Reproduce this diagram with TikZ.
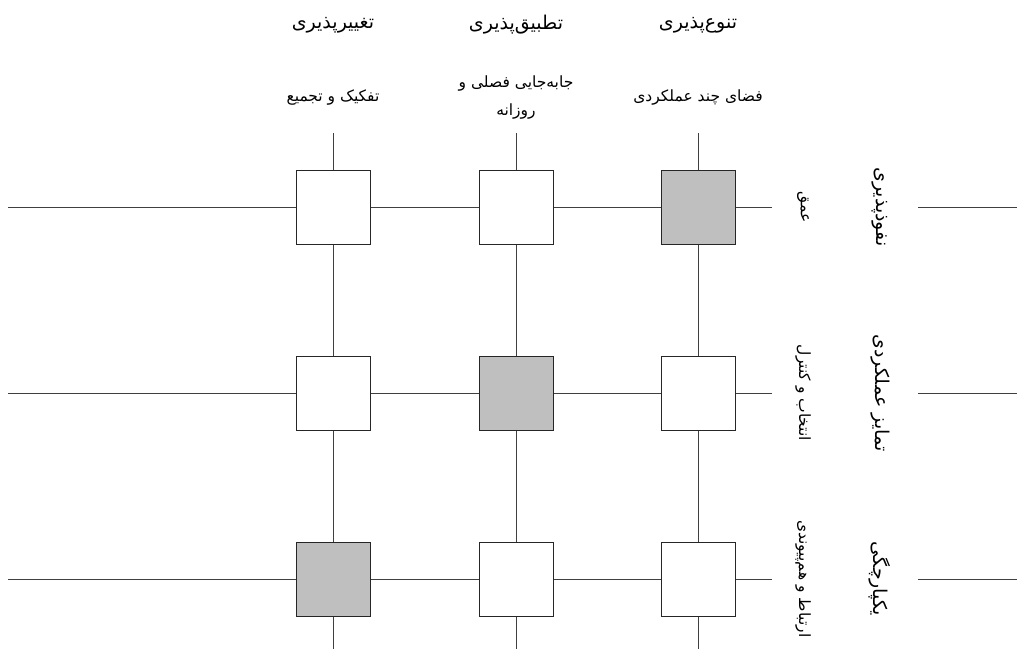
\documentclass[tikz,border=0pt]{standalone}
\usepackage{fontspec}
\TeXXeTstate=1
\newfontfamily\arabicfont[Script=Arabic]{DejaVu Sans}
\begin{document}
\begin{tikzpicture}[x=1pt,y=-1pt,
  cell/.style={draw=black!85,line width=1pt,minimum size=74pt,inner sep=0pt,fill=white},
  shaded/.style={cell,fill=black!25},
  grid/.style={draw=black!75,line width=1pt},
  head/.style={font=\arabicfont\fontsize{19}{22}\selectfont,inner sep=0pt},
  sub/.style={font=\arabicfont\fontsize{15.5}{28}\selectfont,inner sep=0pt,align=center},
  rlab/.style={head,rotate=-90},
  rsub/.style={sub,rotate=-90}]
\useasboundingbox (0,0) rectangle (1017,649);
% column anchors
\coordinate (t1) at (333,133); \coordinate (b1) at (333,649);
\coordinate (t2) at (516,133); \coordinate (b2) at (516,649);
\coordinate (t3) at (698,133); \coordinate (b3) at (698,649);
\coordinate (l1) at (8,207); \coordinate (r1) at (772,207);
\coordinate (l2) at (8,393); \coordinate (r2) at (772,393);
\coordinate (l3) at (8,579); \coordinate (r3) at (772,579);
\coordinate (e1a) at (918,207); \coordinate (e1b) at (1017,207);
\coordinate (e2a) at (918,393); \coordinate (e2b) at (1017,393);
\coordinate (e3a) at (918,579); \coordinate (e3b) at (1017,579);
\draw[grid] (t1) -- (b1);
\draw[grid] (t2) -- (b2);
\draw[grid] (t3) -- (b3);
\draw[grid] (l1) -- (r1);
\draw[grid] (l2) -- (r2);
\draw[grid] (l3) -- (r3);
\draw[grid] (e1a) -- (e1b);
\draw[grid] (e2a) -- (e2b);
\draw[grid] (e3a) -- (e3b);
% cells
\node[cell] (c11) at (333,207) {};
\node[cell] (c12) at (516,207) {};
\node[shaded] (c13) at (698,207) {};
\node[cell] (c21) at (333,393) {};
\node[shaded] (c22) at (516,393) {};
\node[cell] (c23) at (698,393) {};
\node[shaded] (c31) at (333,579) {};
\node[cell] (c32) at (516,579) {};
\node[cell] (c33) at (698,579) {};
% column headings
\node[head] (h1) at (333,25) {\beginR تغییرپذیری\endR};
\node[head] (h2) at (516,25) {\beginR تطبیق‌پذیری\endR};
\node[head] (h3) at (698,25) {\beginR تنوع‌پذیری\endR};
\node[sub] (s1) at (333,97) {\beginR تفکیک و تجمیع\endR};
\node[sub] (s2) at (516,97) {\beginR جابه‌جایی فصلی و\endR\\\beginR روزانه\endR};
\node[sub] (s3) at (698,97) {\beginR فضای چند عملکردی\endR};
% row headings
\node[rlab] (g1) at (880,207) {\beginR نفوذپذیری\endR};
\node[rlab] (g2) at (880,393) {\beginR تمایز عملکردی\endR};
\node[rlab] (g3) at (880,579) {\beginR یکپارچگی\endR};
\node[rsub] (q1) at (803,207) {\beginR عمق\endR};
\node[rsub] (q2) at (803,393) {\beginR انتخاب و کنترل\endR};
\node[rsub] (q3) at (803,579) {\beginR ارتباط و هم‌پیوندی\endR};
\end{tikzpicture}
\end{document}
